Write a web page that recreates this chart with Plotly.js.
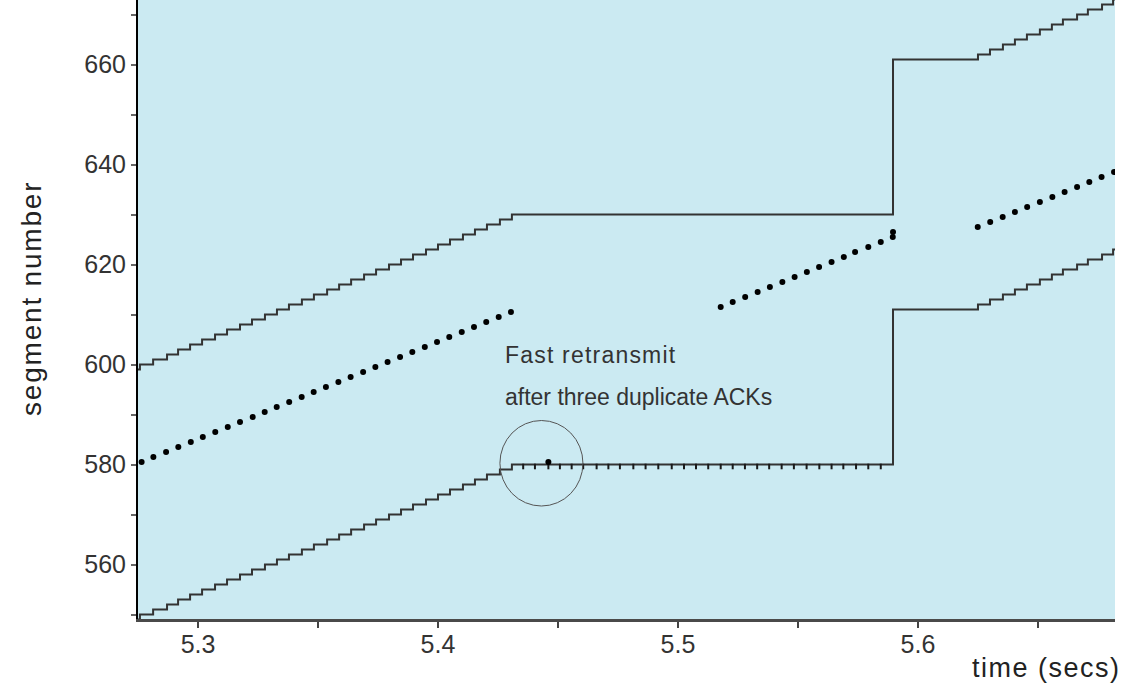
<!DOCTYPE html>
<html>
<head>
<meta charset="utf-8">
<script src="https://cdn.plot.ly/plotly-3.0.1.min.js"></script>
<style>
  html, body { margin: 0; padding: 0; background: #ffffff; }
  #chart { width: 1132px; height: 685px; }
</style>
</head>
<body>
<div id="chart"></div>
<script>
// ---- ACK arrivals (lower step line): time (s) and segment number ----
const ackTimes = [5.2700, 5.2758, 5.2813, 5.2871, 5.2917, 5.2967, 5.3017, 5.3071, 5.3121, 5.3175,
  5.3225, 5.3279, 5.3329, 5.3379, 5.3433, 5.3483, 5.3538, 5.3588, 5.3638, 5.3692,
  5.3742, 5.3796, 5.3846, 5.3896, 5.3950, 5.4000, 5.4050, 5.4104, 5.4154, 5.4204,
  5.4258, 5.4308, 5.5896, 5.6250, 5.6300, 5.6354, 5.6404, 5.6454, 5.6508, 5.6558,
  5.6604, 5.6663, 5.6708, 5.6767, 5.6813, 5.6900];
const ackSegments = [549, 550, 551, 552, 553, 554, 555, 556, 557, 558,
  559, 560, 561, 562, 563, 564, 565, 566, 567, 568,
  569, 570, 571, 572, 573, 574, 575, 576, 577, 578,
  579, 580, 611, 612, 613, 614, 615, 616, 617, 618,
  619, 620, 621, 622, 623, 623];

// ---- Upper step line (window limit): same times ----
const windowSegments = [599, 600, 601, 602, 603, 604, 605, 606, 607, 608,
  609, 610, 611, 612, 613, 614, 615, 616, 617, 618,
  619, 620, 621, 622, 623, 624, 625, 626, 627, 628,
  629, 630, 661, 662, 663, 664, 665, 666, 667, 668,
  669, 670, 671, 672, 673, 673];

// ---- Data segments sent (dots) ----
const sentTimes = [5.2765, 5.2814, 5.2867, 5.2918, 5.2970, 5.3020, 5.3072, 5.3124, 5.3175, 5.3228,
  5.3278, 5.3328, 5.3380, 5.3432, 5.3482, 5.3533, 5.3585, 5.3636, 5.3688, 5.3739,
  5.3790, 5.3842, 5.3893, 5.3945, 5.3996, 5.4047, 5.4099, 5.4150, 5.4201, 5.4253,
  5.4304,
  5.5178, 5.5228, 5.5280, 5.5332, 5.5383, 5.5435, 5.5486, 5.5537, 5.5588, 5.5640,
  5.5691, 5.5738, 5.5793, 5.5845, 5.5895, 5.5896,
  5.6249, 5.6301, 5.6353, 5.6404, 5.6455, 5.6508, 5.6560, 5.6611, 5.6663, 5.6714,
  5.6765, 5.6817];
const sentSegments = [580.5, 581.5, 582.5, 583.5, 584.5, 585.5, 586.5, 587.5, 588.5, 589.5,
  590.5, 591.5, 592.5, 593.5, 594.5, 595.5, 596.5, 597.5, 598.5, 599.5,
  600.5, 601.5, 602.5, 603.5, 604.5, 605.5, 606.5, 607.5, 608.5, 609.5,
  610.5,
  611.5, 612.5, 613.5, 614.5, 615.5, 616.5, 617.5, 618.5, 619.5, 620.5,
  621.5, 622.5, 623.5, 624.5, 625.5, 626.5,
  627.5, 628.5, 629.5, 630.5, 631.5, 632.5, 633.5, 634.5, 635.5, 636.5,
  637.5, 638.5];

// ---- Fast retransmission of segment 580 ----
const retransTimes = [5.4460];
const retransSegments = [580.5];

// ---- Duplicate ACKs for segment 580 ----
const dupAckTimes = [5.4355, 5.4404, 5.4460, 5.4508, 5.4557, 5.4605, 5.4661, 5.4710, 5.4758, 5.4814,
  5.4865, 5.4918, 5.4974, 5.5025, 5.5075, 5.5126, 5.5178, 5.5228, 5.5279, 5.5330,
  5.5380, 5.5432, 5.5483, 5.5536, 5.5589, 5.5640, 5.5689, 5.5742, 5.5793, 5.5845];
const dupAckSegments = [579.6, 579.6, 579.6, 579.6, 579.6, 579.6, 579.6, 579.6, 579.6, 579.6,
  579.6, 579.6, 579.6, 579.6, 579.6, 579.6, 579.6, 579.6, 579.6, 579.6,
  579.6, 579.6, 579.6, 579.6, 579.6, 579.6, 579.6, 579.6, 579.6, 579.6];

// ---- Axis ranges / ticks / texts ----
const xRange = [5.275, 5.6821];
const yRange = [549.1, 672.9];
const xTickVals = [5.3, 5.4, 5.5, 5.6];
const xTickText = ["5.3", "5.4", "5.5", "5.6"];
const yTickVals = [560, 580, 600, 620, 640, 660];
const yTickText = ["560", "580", "600", "620", "640", "660"];
const xTitle = "time (secs)";
const yTitle = "segment number";
const noteLines = ["Fast retransmit", "after three duplicate ACKs"];
const noteAt = {t: 5.4271, seg: [601.9, 593.5]};
const circleBox = {t0: 5.4258, t1: 5.4604, s0: 571.7, s1: 588.8};

const FONT = "Liberation Sans, Arial, Helvetica, sans-serif";
const lineColor = "#333333";

const traces = [
  {x: ackTimes, y: windowSegments, type: "scatter", mode: "lines",
   line: {shape: "hv", color: lineColor, width: 2}, hoverinfo: "skip"},
  {x: ackTimes, y: ackSegments, type: "scatter", mode: "lines",
   line: {shape: "hv", color: lineColor, width: 2}, hoverinfo: "skip"},
  {x: dupAckTimes, y: dupAckSegments, type: "scatter", mode: "markers",
   marker: {symbol: "line-ns-open", size: 4, color: "#1a1a1a", line: {color: "#1a1a1a", width: 2}}, hoverinfo: "skip"},
  {x: sentTimes, y: sentSegments, type: "scatter", mode: "markers",
   marker: {symbol: "circle", size: 6, color: "#000000"}, hoverinfo: "skip"},
  {x: retransTimes, y: retransSegments, type: "scatter", mode: "markers",
   marker: {symbol: "circle", size: 6, color: "#000000"}, hoverinfo: "skip"}
];

const layout = {
  width: 1132, height: 685,
  margin: {l: 138, r: 17, t: 0, b: 66, pad: 0},
  paper_bgcolor: "#ffffff",
  plot_bgcolor: "#cbeaf2",
  showlegend: false,
  hovermode: false,
  font: {family: FONT, color: "#333333"},
  xaxis: {
    range: xRange, showgrid: false, zeroline: false,
    showline: true, linecolor: "#4a4a4a", linewidth: 2.5,
    tickmode: "array", tickvals: xTickVals, ticktext: xTickText,
    ticks: "outside", ticklen: 6, tickwidth: 2, tickcolor: "#444444",
    ticklabelstandoff: -5,
    tickfont: {family: FONT, size: 25, color: "#333333"},
    minor: {dtick: 0.05, tick0: 5.3, ticks: "outside", ticklen: 6, tickwidth: 2, tickcolor: "#444444", showgrid: false}
  },
  yaxis: {
    range: yRange, showgrid: false, zeroline: false,
    showline: true, linecolor: "#000000", linewidth: 2,
    tickmode: "array", tickvals: yTickVals, ticktext: yTickText,
    ticks: "outside", ticklen: 5, tickwidth: 2, tickcolor: "#666666",
    tickfont: {family: FONT, size: 25, color: "#333333"},
    minor: {dtick: 10, tick0: 550, ticks: "outside", ticklen: 5, tickwidth: 2, tickcolor: "#666666", showgrid: false}
  },
  shapes: [
    {type: "circle", xref: "x", yref: "y", x0: circleBox.t0, x1: circleBox.t1, y0: circleBox.s0, y1: circleBox.s1,
     line: {color: "#555555", width: 1}, fillcolor: "rgba(0,0,0,0)"}
  ],
  annotations: [
    {xref: "x", yref: "y", x: noteAt.t, y: noteAt.seg[0], text: '<span style="letter-spacing:1.2px">' + noteLines[0] + '</span>', showarrow: false,
     xanchor: "left", yanchor: "middle", font: {family: FONT, size: 23, color: "#333333"}},
    {xref: "x", yref: "y", x: noteAt.t, y: noteAt.seg[1], text: noteLines[1], showarrow: false,
     xanchor: "left", yanchor: "middle", font: {family: FONT, size: 23, color: "#333333"}},
    {xref: "paper", yref: "paper", x: 1.0085, y: -0.0795, text: '<span style="letter-spacing:1.5px">' + xTitle + '</span>', showarrow: false,
     xanchor: "right", yanchor: "middle", font: {family: FONT, size: 27, color: "#222222"}},
    {xref: "paper", yref: "paper", x: -0.1085, y: 0.5186, text: '<span style="letter-spacing:1.8px">' + yTitle + '</span>', showarrow: false,
     textangle: -90, xanchor: "center", yanchor: "middle", font: {family: FONT, size: 28, color: "#222222"}}
  ]
};

Plotly.newPlot("chart", traces, layout, {displayModeBar: false, staticPlot: true});
</script>
</body>
</html>
